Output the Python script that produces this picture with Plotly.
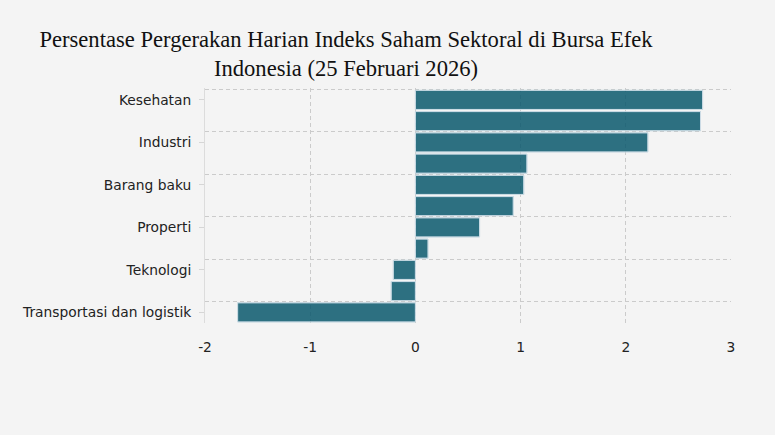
import plotly.graph_objects as go

# sectors, top to bottom as drawn
sectors = [
    "Kesehatan",
    "Infrastruktur",
    "Industri",
    "Energi",
    "Barang baku",
    "Keuangan",
    "Properti",
    "Barang konsumen primer",
    "Teknologi",
    "Barang konsumen non-primer",
    "Transportasi dan logistik",
]
change_pct = [2.73, 2.71, 2.21, 1.06, 1.03, 0.93, 0.61, 0.12, -0.21, -0.23, -1.69]

x_ticks = [-2, -1, 0, 1, 2, 3]

BG = "#f4f4f4"
GRID = "#cbcbcb"
BAR = "#0b596e"

fig = go.Figure()
fig.add_trace(
    go.Bar(
        x=change_pct,
        y=sectors,
        orientation="h",
        marker=dict(color=BAR, line=dict(color="#a9c6d0", width=1)),
        opacity=0.85,
        showlegend=False,
    )
)
# invisible copy on an overlaid axis, only so the boundary grid can be drawn
fig.add_trace(
    go.Bar(
        x=change_pct,
        y=sectors,
        orientation="h",
        yaxis="y2",
        marker=dict(color="rgba(0,0,0,0)"),
        hoverinfo="skip",
        showlegend=False,
    )
)

n = len(sectors)

fig.update_layout(
    width=775,
    height=435,
    paper_bgcolor=BG,
    plot_bgcolor=BG,
    margin=dict(l=205, r=44, t=88, b=112),
    bargap=0.1,
    font=dict(family="DejaVu Sans, Verdana, sans-serif", size=13.8, color="#222222"),
    title=dict(
        text="Persentase Pergerakan Harian Indeks Saham Sektoral di Bursa Efek<br>Indonesia (25 Februari 2026)",
        font=dict(family="Liberation Serif, Times New Roman, serif", size=22.6, color="#111111"),
        xref="container",
        yref="container",
        x=346 / 775,
        xanchor="center",
        y=0.893,
        yanchor="top",
    ),
    xaxis=dict(
        range=[-2, 3],
        tickmode="array",
        tickvals=x_ticks,
        ticktext=[str(v) for v in x_ticks],
        showgrid=True,
        gridcolor=GRID,
        griddash="4px,3px",
        gridwidth=1,
        zeroline=False,
        ticks="",
        ticklabelstandoff=14,
        showline=False,
    ),
    yaxis=dict(
        type="category",
        range=[n - 0.5, -0.56],
        tickmode="linear",
        tick0=0,
        dtick=2,
        ticks="outside",
        ticklen=5,
        tickcolor="#d6d6d6",
        ticklabelstandoff=5,
        showgrid=False,
        showline=True,
        linecolor="#dcdcdc",
        zeroline=False,
    ),
    yaxis2=dict(
        type="category",
        overlaying="y",
        matches="y",
        tickmode="linear",
        tick0=0,
        dtick=2,
        tickson="boundaries",
        showticklabels=False,
        ticks="",
        showgrid=True,
        gridcolor=GRID,
        griddash="4px,3px",
        gridwidth=1,
        zeroline=False,
    ),
)

fig.write_html(
    "out.html",
    config={"displayModeBar": False},
    post_script="document.body.style.margin='0';document.body.style.background='#f4f4f4';",
)
